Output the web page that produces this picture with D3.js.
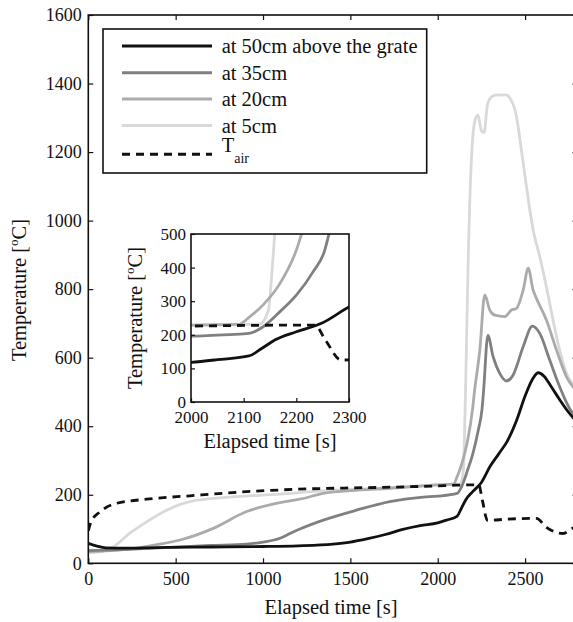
<!DOCTYPE html>
<html><head><meta charset="utf-8">
<script src="https://cdn.jsdelivr.net/npm/d3@7"></script>
<style>
body{margin:0;background:#fff}
svg{display:block}
text{font-family:"Liberation Serif","DejaVu Serif",serif;fill:#111}
</style>
</head><body>
<svg id="c" width="573" height="622"></svg>
<script>
// ---- data ----
const time50 = [0,50,100,200,400,600,800,1000,1200,1400,1500,1600,1700,1800,1900,2000,2050,2110,2135,2160,2200,2250,2300,2350,2400,2450,2500,2540,2575,2610,2650,2700,2750,2800];
const temp50 = [58,50,45,44,46,47,48,49,51,56,62,72,84,99,110,118,126,137,160,185,209,236,283,320,358,415,488,535,556,545,515,476,440,410];

const time35 = [0,200,525,700,906,1000,1097,1154,1211,1345,1535,1726,1917,2000,2110,2137,2169,2200,2232,2254,2262,2287,2317,2355,2393,2431,2489,2542,2584,2641,2698,2773,2800];
const temp35 = [37,40,48,52,56,62,73,87,100,126,155,180,193,196,204,224,269,318,388,452,500,665,603,554,532,549,632,692,671,593,515,438,428];

const time20 = [0,100,238,400,525,715,906,1097,1211,1345,1500,1726,1900,2000,2090,2112,2137,2169,2200,2210,2241,2269,2298,2327,2384,2422,2451,2489,2518,2546,2565,2622,2680,2737,2800];
const temp20 = [34,36,42,55,68,102,151,177,187,204,212,219,225,229,231,254,289,353,452,500,622,783,739,724,720,739,744,797,861,797,773,710,622,544,500];

const time5 = [0,80,143,238,334,448,582,811,1097,1300,1600,1900,2000,2130,2147,2153,2159,2175,2195,2215,2231,2250,2265,2285,2305,2330,2390,2410,2451,2479,2508,2546,2584,2622,2660,2698,2737,2800];
const temp5 = [31,35,48,88,121,155,180,193,202,210,218,226,229,232,273,372,500,900,1200,1295,1308,1262,1257,1340,1360,1366,1367,1360,1303,1206,1099,973,895,807,710,622,554,515];

const timeAir = [0,15,67,162,334,582,906,1192,1500,1726,2000,2107,2200,2235,2255,2285,2400,2565,2622,2717,2772,2800];
const tempAir = [95,120,150,175,187,197,209,216,220,222,226,228,229,229,185,125,129,131,105,87,102,110];

const seriesNames = ["at 50cm above the grate","at 35cm","at 20cm","at 5cm","T"];
const xTicks = [0,500,1000,1500,2000,2500];
const yTicks = [0,200,400,600,800,1000,1200,1400,1600];
const xTicksInset = [2000,2100,2200,2300];
const yTicksInset = [0,100,200,300,400,500];

// ---- styling ----
const FONT = '"Liberation Serif","DejaVu Serif",serif';
const series = [
  {t: time50, v: temp50, color: "#111111", dash: null},
  {t: time35, v: temp35, color: "#808080", dash: null},
  {t: time20, v: temp20, color: "#ababab", dash: null},
  {t: time5,  v: temp5,  color: "#d9d9d9", dash: null},
  {t: timeAir, v: tempAir, color: "#111111", dash: "8,6"}
];
const drawOrder = [3,2,1,0,4];

const svg = d3.select("#c");

function makeChart(g, x, y, clipId, lw) {
  g.append("clipPath").attr("id", clipId).append("rect")
    .attr("x", x.range()[0]).attr("y", y.range()[1])
    .attr("width", x.range()[1]-x.range()[0]).attr("height", y.range()[0]-y.range()[1]);
  const line = d3.line().curve(d3.curveMonotoneX).x(d => x(d[0])).y(d => y(d[1]));
  const lg = g.append("g").attr("clip-path", `url(#${clipId})`);
  drawOrder.forEach(i => {
    const s = series[i];
    const pts = s.t.map((t, k) => [t, s.v[k]]);
    lg.append("path").datum(pts).attr("d", line)
      .attr("fill", "none").attr("stroke", s.color).attr("stroke-width", lw)
      .attr("stroke-linejoin", "round")
      .attr("stroke-dasharray", s.dash);
  });
}

// ---- main chart ----
const x = d3.scaleLinear().domain([0, 2800]).range([88.3, 577.5]);
const y = d3.scaleLinear().domain([0, 1600]).range([563.3, 15]);
const main = svg.append("g");
makeChart(main, x, y, "clipMain", 2.8);

const fmt = d3.format("d");
function styleAxis(g, fs) {
  g.attr("font-family", FONT);
  g.select(".domain").remove();
  g.selectAll("line").attr("stroke", "#111").attr("stroke-width", 1.2);
  g.selectAll("text").attr("font-size", fs).attr("fill", "#111").attr("font-family", FONT);
}
main.append("g").attr("transform", `translate(0,${y(0)})`)
  .call(d3.axisBottom(x).tickValues(xTicks).tickFormat(fmt).tickSizeInner(-5).tickSizeOuter(0).tickPadding(9))
  .call(g => styleAxis(g, 18));
main.append("g").attr("transform", `translate(0,${y(1600)})`)
  .call(d3.axisTop(x).tickValues(xTicks).tickSizeInner(-5).tickSizeOuter(0).tickFormat(""))
  .call(g => styleAxis(g, 18));
main.append("g").attr("transform", `translate(${x(0)},0)`)
  .call(d3.axisLeft(y).tickValues(yTicks).tickFormat(fmt).tickSizeInner(-5).tickSizeOuter(0).tickPadding(6.5))
  .call(g => styleAxis(g, 18));
main.append("g").attr("transform", `translate(${x(2800)},0)`)
  .call(d3.axisRight(y).tickValues(yTicks).tickSizeInner(-5).tickSizeOuter(0).tickFormat(""))
  .call(g => styleAxis(g, 18));
main.append("rect").attr("x", x(0)).attr("y", y(1600))
  .attr("width", x(2800)-x(0)).attr("height", y(0)-y(1600))
  .attr("fill", "none").attr("stroke", "#111").attr("stroke-width", 1.6);

main.append("text").attr("x", 331).attr("y", 614).attr("text-anchor", "middle")
  .attr("font-size", 20.5).text("Elapsed time [s]");
const yl = main.append("text").attr("transform", "translate(26,290) rotate(-90)")
  .attr("text-anchor", "middle").attr("font-size", 20.5);
yl.append("tspan").text("Temperature [");
yl.append("tspan").attr("font-size", 13).attr("dy", -8).text("o");
yl.append("tspan").attr("dy", 8).text("C]");

// ---- legend ----
const leg = svg.append("g");
leg.append("rect").attr("x", 103).attr("y", 29).attr("width", 323.7).attr("height", 144)
  .attr("fill", "#fff").attr("stroke", "#111").attr("stroke-width", 1.6);
const rowY = [46, 72.7, 99, 125.5, 154.3];
seriesNames.forEach((nm, i) => {
  const s = series[i];
  leg.append("line").attr("x1", 122).attr("x2", 212).attr("y1", rowY[i]).attr("y2", rowY[i])
    .attr("stroke", s.color).attr("stroke-width", 3).attr("stroke-dasharray", s.dash);
  if (i < 4) {
    leg.append("text").attr("x", 221.7).attr("y", rowY[i] + 7).attr("font-size", 20.5).text(nm);
  } else {
    const t = leg.append("text").attr("x", 221.7).attr("y", rowY[i] - 2).attr("font-size", 20.5);
    t.append("tspan").text(nm);
    t.append("tspan").attr("font-size", 14).attr("dy", 11).text("air");
  }
});

// ---- inset ----
const xi = d3.scaleLinear().domain([2000, 2300]).range([191, 349]);
const yi = d3.scaleLinear().domain([0, 500]).range([402, 234]);
const ins = svg.append("g");
ins.append("rect").attr("x", 191).attr("y", 234).attr("width", 158).attr("height", 168).attr("fill", "#fff");
makeChart(ins, xi, yi, "clipInset", 2.8);
ins.append("g").attr("transform", `translate(0,${yi(0)})`)
  .call(d3.axisBottom(xi).tickValues(xTicksInset).tickFormat(fmt).tickSizeInner(-4).tickSizeOuter(0).tickPadding(9))
  .call(g => styleAxis(g, 17));
ins.append("g").attr("transform", `translate(${xi(2000)},0)`)
  .call(d3.axisLeft(yi).tickValues(yTicksInset).tickFormat(fmt).tickSizeInner(-4).tickSizeOuter(0).tickPadding(5))
  .call(g => styleAxis(g, 17));
ins.append("rect").attr("x", 191).attr("y", 234).attr("width", 158).attr("height", 168)
  .attr("fill", "none").attr("stroke", "#111").attr("stroke-width", 1.6);
ins.append("text").attr("x", 270).attr("y", 448).attr("text-anchor", "middle")
  .attr("font-size", 20.5).text("Elapsed time [s]");
const yl2 = ins.append("text").attr("transform", "translate(142,318) rotate(-90)")
  .attr("text-anchor", "middle").attr("font-size", 20.5);
yl2.append("tspan").text("Temperature [");
yl2.append("tspan").attr("font-size", 13).attr("dy", -8).text("o");
yl2.append("tspan").attr("dy", 8).text("C]");
</script>
</body></html>
